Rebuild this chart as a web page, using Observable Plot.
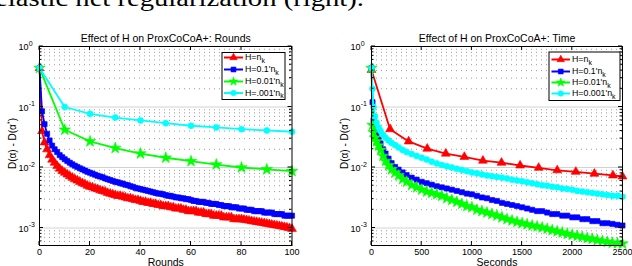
<!DOCTYPE html>
<html><head><meta charset="utf-8">
<script src="https://cdn.jsdelivr.net/npm/d3@7"></script>
<script src="https://cdn.jsdelivr.net/npm/@observablehq/plot@0.6"></script>
<style>
body{margin:0;background:#fff;overflow:hidden}
#wrap{position:relative;width:632px;height:266px;overflow:hidden;background:#fff}
#wrap svg{position:absolute;top:0}
</style>
</head><body><div id="wrap"></div>
<script>
// ---------- data ----------
const headerText = "elastic net regularization (right).";
const titles = ["Effect of H on ProxCoCoA+: Rounds", "Effect of H on ProxCoCoA+: Time"];
const xLabels = ["Rounds", "Seconds"];
const yTicks = [1, 0.1, 0.01, 0.001];
const yTickExp = ["0", "-1", "-2", "-3"];
const yMinor = [0.0006,0.0007,0.0008,0.0009,0.002,0.003,0.004,0.005,0.006,0.007,0.008,0.009,
  0.02,0.03,0.04,0.05,0.06,0.07,0.08,0.09,0.2,0.3,0.4,0.5,0.6,0.7,0.8,0.9];
const roundTicks = [0,20,40,60,80,100];
const timeTicks = [0,500,1000,1500,2000,2500];
const legendLeft = ["H=n", "H=0.1'n", "H=0.01'n", "H=.001'n"];
const legendRight = ["H=n", "H=0.1'n", "H=0.01'n", "H=0.001'n"];

// Rounds panel (index = round number for dense series)
const roundsRed = [0.44,0.040,0.026,0.020,0.016,0.0135,0.012,0.0106,0.0096,0.0088,0.0082,
  0.0077,0.0072,0.0068,0.0064,0.0061,0.0058,0.0055,0.0053,0.0050,0.0048,
  0.0047,0.0045,0.0044,0.0042,0.0041,0.0040,0.0038,0.0037,0.0036,0.0035,
  0.0034,0.0034,0.0033,0.0032,0.0031,0.0031,0.0030,0.0029,0.0029,0.0028,
  0.0027,0.0027,0.0026,0.0026,0.0025,0.0025,0.0024,0.0024,0.0023,0.0023,
  0.0023,0.0022,0.0022,0.0021,0.0021,0.0021,0.0020,0.0020,0.0019,0.0019,
  0.0019,0.0019,0.0018,0.0018,0.0018,0.0017,0.0017,0.0017,0.0016,0.0016,
  0.0016,0.0016,0.0015,0.0015,0.0015,0.0015,0.0014,0.0014,0.0014,0.0014,
  0.00137,0.00135,0.00133,0.0013,0.00128,0.00126,0.00124,0.00122,0.0012,0.00118,
  0.00116,0.00114,0.00112,0.0011,0.00108,0.00106,0.00104,0.00102,0.001,0.00097];
const roundsBlue = [0.44,0.085,0.052,0.036,0.028,0.023,0.020,0.018,0.016,0.0148,0.0137,
  0.0128,0.012,0.0113,0.0107,0.0102,0.0097,0.0093,0.0089,0.0085,0.0082,
  0.0079,0.0076,0.0073,0.0071,0.0069,0.0066,0.0064,0.0062,0.0060,0.0058,
  0.0057,0.0055,0.0054,0.0052,0.0051,0.0049,0.0048,0.0046,0.0045,0.0044,
  0.0043,0.0042,0.0041,0.0040,0.0039,0.0038,0.0037,0.0037,0.0036,0.0035,
  0.0034,0.0034,0.0033,0.0032,0.0032,0.0031,0.0031,0.0030,0.0030,0.0029,
  0.0028,0.0028,0.0027,0.0027,0.0027,0.0026,0.0026,0.0025,0.0025,0.0025,
  0.0024,0.0024,0.0023,0.0023,0.0023,0.0022,0.0022,0.0022,0.0021,0.0021,
  0.0021,0.0020,0.0020,0.0020,0.0019,0.0019,0.0019,0.0019,0.0018,0.0018,
  0.0018,0.0018,0.0017,0.0017,0.0017,0.0017,0.0016,0.0016,0.0016,0.0016];
const roundsSparse = [0,10,20,30,40,50,60,70,80,90,100];
const roundsGreen = [0.44,0.042,0.027,0.021,0.017,0.0145,0.0127,0.0112,0.0100,0.0093,0.0087];
const roundsCyan = [0.44,0.10,0.077,0.067,0.060,0.054,0.049,0.046,0.043,0.041,0.039];

// Time panel
const timeRedX = [0,185,370,555,740,925,1110,1295,1480,1665,1850,2035,2220,2405,2500];
const timeRed = [0.41,0.043,0.027,0.0205,0.017,0.015,0.013,0.012,0.0108,0.0099,0.009,0.0085,0.0079,0.0074,0.0071];
const timeDenseX = [0,10,20,35,50,70,90,115,140,170,200,235,270,310,350,
  400,450,500,550,600,650,700,750,800,850,900,950,1000,1050,1100,1150,1200,1250,1300,1350,
  1400,1450,1500,1550,1600,1650,1700,1750,1800,1850,1900,1950,2000,2050,2100,2150,2200,2250,
  2300,2350,2400,2450,2500];
const timeBlue = [0.44,0.12,0.06,0.042,0.035,0.029,0.025,0.02,0.017,0.014,0.0118,0.0102,0.0092,0.0083,0.0075,
  0.0068,0.0063,0.0058,0.0055,0.0052,0.0049,0.0047,0.0045,0.0043,0.0041,0.0039,0.0037,0.0036,0.0034,0.0032,
  0.0031,0.0029,0.0028,0.0026,0.0025,0.0024,0.0023,0.0022,0.0021,0.0020,0.0019,0.0019,0.0018,0.0017,0.0017,
  0.0016,0.0016,0.0015,0.0015,0.0014,0.0014,0.0013,0.0013,0.0012,0.0012,0.00117,0.00113,0.0011];
const timeGreen = [0.44,0.05,0.038,0.031,0.027,0.023,0.0195,0.0155,0.0128,0.0108,0.0093,0.0082,0.0074,0.0064,0.0058,
  0.0051,0.0047,0.0043,0.0040,0.0038,0.0036,0.0034,0.0031,0.0029,0.0027,0.0025,0.0023,0.0022,0.0020,0.0019,
  0.0018,0.0017,0.0016,0.0015,0.0014,0.00133,0.00126,0.0012,0.00115,0.0011,0.00106,0.00102,0.00097,0.00092,0.00088,
  0.00084,0.0008,0.00077,0.00074,0.00071,0.00068,0.00066,0.00063,0.00061,0.00059,0.00057,0.00056,0.00055];
const timeCyan = [0.44,0.2,0.1,0.07,0.055,0.046,0.040,0.035,0.031,0.028,0.0255,0.0235,0.0215,0.0195,0.018,
  0.0167,0.0155,0.0145,0.0135,0.0125,0.0117,0.011,0.0105,0.0100,0.0095,0.0091,0.0087,0.0083,0.0080,0.0077,
  0.0074,0.0072,0.0070,0.0068,0.0066,0.0063,0.0061,0.0059,0.0057,0.0055,0.0053,0.0051,0.0050,0.0048,0.0047,
  0.0045,0.0044,0.0043,0.0041,0.0040,0.0039,0.0038,0.0037,0.0036,0.0035,0.0034,0.0034,0.0033];

// ---------- drawing ----------
const FONT = "Liberation Sans, Arial, Helvetica, sans-serif";
const styles = [
  {color:"#ff0000", symbol:"triangle", r:3.3, d3sym:d3.symbolTriangle},
  {color:"#0000ff", symbol:"square", r:2.9, d3sym:d3.symbolSquare},
  {color:"#00ff00", symbol:"star", r:3.6, d3sym:d3.symbolStar},
  {color:"#00ffff", symbol:"circle", r:3.0, d3sym:d3.symbolCircle}
];
const zip = (xs, ys) => ys.map((y, i) => ({x: xs[i], y}));
const W = 316, H = 266, MT = 46, MB = 21;

function panel(cfg) {
  const seriesMarks = [];
  cfg.series.forEach((s, i) => {
    const st = styles[i];
    seriesMarks.push(Plot.line(s, {x:"x", y:"y", stroke:st.color, strokeWidth:1.8}));
    seriesMarks.push(Plot.dot(s, {x:"x", y:"y", symbol:()=>st.symbol, r:st.r, fill:st.color, stroke:st.color, strokeWidth:0.6}));
  });
  const chart = Plot.plot({
    width:W, height:H, marginTop:MT, marginBottom:MB, marginLeft:cfg.ml, marginRight:cfg.mr,
    style:{fontFamily:FONT, background:"transparent", color:"black"},
    x:{domain:cfg.xDomain},
    y:{type:"log", domain:[5.14e-4, 1], axis:null},
    marks:[
      Plot.ruleY(yMinor, {stroke:"#9a9a9a", strokeDasharray:"1,4", strokeWidth:1}),
      Plot.ruleY(yTicks, {stroke:"#d2d2d2", strokeWidth:1}),
      ...seriesMarks,
      Plot.frame({stroke:"black", strokeWidth:1}),
      Plot.axisX(cfg.xTicks, {anchor:"bottom", tickSize:0, tickPadding:3, fontSize:9, label:null, tickFormat:d => String(d)}),
      Plot.text([cfg.title], {frameAnchor:"top", dy:-5, lineAnchor:"bottom", fontSize:10.5}),
      Plot.text([cfg.xlabel], {frameAnchor:"bottom", dy:20, lineAnchor:"bottom", fontSize:10.5})
    ]
  });
  chart.style.left = cfg.left + "px";
  const sx = chart.scale("x"), sy = chart.scale("y");
  const l = cfg.ml, r = W - cfg.mr, t = MT, b = H - MB;
  const g = d3.select(chart).append("g").attr("fill","none").attr("stroke","black").attr("stroke-width",1);
  yTicks.forEach(v => {
    const y = sy.apply(v);
    g.append("line").attr("x1", l).attr("x2", l+4).attr("y1", y).attr("y2", y);
    g.append("line").attr("x1", r-4).attr("x2", r).attr("y1", y).attr("y2", y);
  });
  yMinor.forEach(v => {
    const y = sy.apply(v);
    g.append("line").attr("x1", l).attr("x2", l+2.5).attr("y1", y).attr("y2", y);
    g.append("line").attr("x1", r-2.5).attr("x2", r).attr("y1", y).attr("y2", y);
  });
  cfg.xTicks.forEach(v => {
    const x = sx.apply(v);
    g.append("line").attr("x1", x).attr("x2", x).attr("y1", b).attr("y2", b-4);
    g.append("line").attr("x1", x).attr("x2", x).attr("y1", t).attr("y2", t+4);
  });
  // y tick labels with exponent
  const lab = d3.select(chart).append("g").attr("font-family", FONT).attr("fill","black");
  yTicks.forEach((v, i) => {
    const y = sy.apply(v);
    lab.append("text").attr("x", l-10.5).attr("y", y+4).attr("text-anchor","end").attr("font-size",9).text("10");
    lab.append("text").attr("x", l-10.3).attr("y", y-0.5).attr("text-anchor","start").attr("font-size",7).text(yTickExp[i]);
  });
  // y label
  const yl = lab.append("text").attr("transform", `translate(${cfg.ylx},${(t+b)/2 - 2}) rotate(-90)`)
    .attr("text-anchor","middle").attr("font-size",10);
  yl.append("tspan").text("D(α) - D(α");
  yl.append("tspan").attr("dy",-4).attr("font-size",7).text("*");
  yl.append("tspan").attr("dy",4).text(")");
  // legend
  const L = cfg.legend;
  const lg = d3.select(chart).append("g").attr("font-family", FONT);
  lg.append("rect").attr("x", L.x).attr("y", L.y).attr("width", L.w).attr("height", L.h)
    .attr("fill","white").attr("stroke","black").attr("stroke-width",1);
  L.labels.forEach((txt, i) => {
    const st = styles[i], y = L.rows[i];
    lg.append("line").attr("x1", L.lx1).attr("x2", L.lx2).attr("y1", y).attr("y2", y)
      .attr("stroke", st.color).attr("stroke-width", 2);
    lg.append("path").attr("transform", `translate(${(L.lx1+L.lx2)/2},${y})`)
      .attr("d", d3.symbol(st.d3sym, 24)()).attr("fill", st.color).attr("stroke", st.color).attr("stroke-width",0.6);
    const tx = lg.append("text").attr("x", L.tx).attr("y", y+2.8).attr("text-anchor","start")
      .attr("font-size", 8.8).attr("fill","black");
    tx.append("tspan").text(txt);
    tx.append("tspan").attr("dy", 2.4).attr("font-size", 7).text("k");
  });
  document.getElementById("wrap").appendChild(chart);
  return chart;
}

// header line (cut-off caption above the figure)
const head = d3.select("#wrap").append("svg").attr("width",632).attr("height",30).style("left","0px");
head.append("text").attr("x",-5).attr("y",6).attr("font-family","Liberation Serif, Times New Roman, serif")
  .attr("font-size",23).attr("textLength",369).attr("lengthAdjust","spacingAndGlyphs").text(headerText);

panel({
  left:0, ml:39, mr:W-291.5, xDomain:[0,100], xTicks:roundTicks, title:titles[0], xlabel:xLabels[0], ylx:16,
  series:[zip(roundsRed.map((_, i) => i), roundsRed), zip(roundsBlue.map((_, i) => i), roundsBlue),
          zip(roundsSparse, roundsGreen), zip(roundsSparse, roundsCyan)],
  legend:{x:222, y:52.5, w:63, h:47, rows:[57.5,69.5,81.5,93], lx1:224, lx2:243, tx:245, labels:legendLeft}
});
panel({
  left:316, ml:55, mr:10, xDomain:[0,2500], xTicks:timeTicks, title:titles[1], xlabel:xLabels[1], ylx:32,
  series:[zip(timeRedX, timeRed), zip(timeDenseX, timeBlue), zip(timeDenseX, timeGreen), zip(timeDenseX, timeCyan)],
  legend:{x:233, y:52, w:71, h:48.5, rows:[59.5,71.5,82.5,93.5], lx1:235.5, lx2:254, tx:256, labels:legendRight}
});
</script></body></html>
